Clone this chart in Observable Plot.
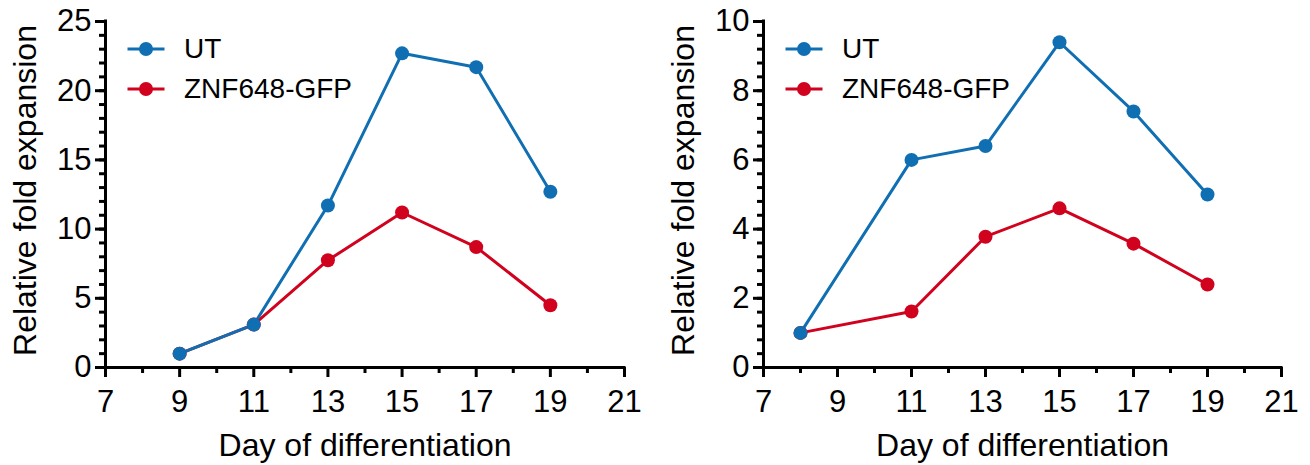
<!DOCTYPE html>
<html><head><meta charset="utf-8">
<script src="https://cdn.jsdelivr.net/npm/d3@7"></script>
<script src="https://cdn.jsdelivr.net/npm/@observablehq/plot@0.6"></script>
<style>
body{margin:0;background:#fff;font-family:"Liberation Sans",Arial,Helvetica,sans-serif;}
#wrap{display:flex;width:1310px;height:465px;}
.panel{position:relative;width:655px;height:465px;}
.leg{position:absolute;font-size:28px;line-height:28px;color:#000;white-space:nowrap;}
.sw{position:absolute;}
</style></head><body><div id="wrap"></div>
<script>
const seriesNames = ["UT", "ZNF648-GFP"];
const seriesColors = ["#0F6FB2", "#D0021E"];

const leftDays = [9, 11, 13, 15, 17, 19];
const leftUT = [1.0, 3.1, 11.7, 22.7, 21.7, 12.7];
const leftZNF = [1.0, 3.1, 7.75, 11.2, 8.7, 4.5];

const rightDays = [8, 11, 13, 15, 17, 19];
const rightUT = [1.0, 6.0, 6.4, 9.4, 7.4, 5.0];
const rightZNF = [1.0, 1.62, 3.78, 4.6, 3.58, 2.4];

const xTicks = [7, 9, 11, 13, 15, 17, 19, 21];
const xMinorTicks = [8, 10, 12, 14, 16, 18, 20];
const leftYTicks = [0, 5, 10, 15, 20, 25];
const rightYTicks = [0, 2, 4, 6, 8, 10];
const xTitle = "Day of differentiation";
const yTitle = "Relative fold expansion";

function makePanel(days, ut, znf, yMax, yTicks, minorStep, mLeft, mRight) {
  const rows = [];
  // draw ZNF first so UT is on top
  days.forEach((d, i) => rows.push({day: d, value: znf[i], series: seriesNames[1]}));
  days.forEach((d, i) => rows.push({day: d, value: ut[i], series: seriesNames[0]}));
  const yMinor = d3.range(0, yMax + 1e-9, minorStep).map(v => +v.toFixed(4));
  const font = '"Liberation Sans", Arial, Helvetica, sans-serif';
  const plot = Plot.plot({
    width: 655, height: 465,
    marginLeft: mLeft, marginRight: mRight, marginTop: 21, marginBottom: 98,
    x: {domain: [7, 21]},
    y: {domain: [0, yMax]},
    color: {domain: seriesNames, range: seriesColors},
    style: {fontFamily: font, fontSize: "31px", color: "#000", background: "#fff"},
    marks: [
      Plot.axisY(yMinor, {tickSize: 6, text: null, strokeWidth: 3, label: null}),
      Plot.axisY(yTicks, {tickSize: 10, tickPadding: 4, strokeWidth: 3, label: null}),
      Plot.axisX(xMinorTicks, {tickSize: 6, text: null, strokeWidth: 3, label: null}),
      Plot.axisX(xTicks, {tickSize: 10, tickPadding: 12, strokeWidth: 3, label: null}),
      Plot.ruleX([7], {strokeWidth: 3, strokeLinecap: "square"}),
      Plot.ruleY([0], {strokeWidth: 3, strokeLinecap: "square"}),
      Plot.line(rows, {x: "day", y: "value", z: "series", stroke: "series", strokeWidth: 3}),
      Plot.dot(rows, {x: "day", y: "value", fill: "series", r: 7, stroke: null}),
      Plot.text([xTitle], {frameAnchor: "bottom", lineAnchor: "middle", textAnchor: "middle", dy: 78, fontSize: 32, fill: "#000", text: d => d}),
      Plot.text([yTitle], {frameAnchor: "left", lineAnchor: "middle", textAnchor: "middle", dx: -80, dy: -4, rotate: -90, fontSize: 32, fill: "#000", text: d => d})
    ]
  });
  const div = document.createElement("div");
  div.className = "panel";
  div.appendChild(plot);
  const legRows = [49, 88.5];
  seriesNames.forEach((name, i) => {
    const cy = legRows[i];
    const sw = document.createElementNS("http://www.w3.org/2000/svg", "svg");
    sw.setAttribute("width", 40); sw.setAttribute("height", 20);
    sw.setAttribute("class", "sw");
    sw.style.left = (mLeft + 20.5) + "px";
    sw.style.top = (cy - 10) + "px";
    sw.innerHTML = `<line x1="1.5" x2="38.5" y1="10" y2="10" stroke="${seriesColors[i]}" stroke-width="3"/><circle cx="20" cy="10" r="7" fill="${seriesColors[i]}"/>`;
    div.appendChild(sw);
    const t = document.createElement("div");
    t.className = "leg";
    t.textContent = name;
    t.style.left = (mLeft + 79) + "px";
    t.style.top = (cy - 14) + "px";
    div.appendChild(t);
  });
  return div;
}

const wrap = document.getElementById("wrap");
wrap.appendChild(makePanel(leftDays, leftUT, leftZNF, 25, leftYTicks, 1, 105, 31));
wrap.appendChild(makePanel(rightDays, rightUT, rightZNF, 10, rightYTicks, 0.4, 108, 29));
</script>
</body></html>
